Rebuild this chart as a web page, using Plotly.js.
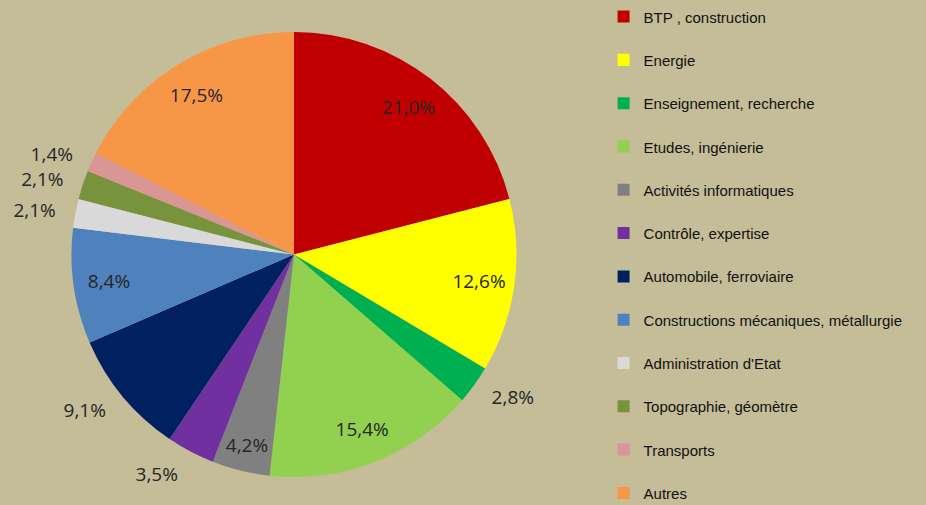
<!DOCTYPE html>
<html>
<head>
<meta charset="utf-8">
<script src="https://cdn.plot.ly/plotly-3.0.1.min.js"></script>
<style>html,body{margin:0;padding:0;background:#C4BD97;}#chart{width:926px;height:505px;}</style>
</head>
<body>
<div id="chart"></div>
<script>
const categories = [
  "BTP , construction",
  "Energie",
  "Enseignement, recherche",
  "Etudes, ingénierie",
  "Activités informatiques",
  "Contrôle, expertise",
  "Automobile, ferroviaire",
  "Constructions mécaniques, métallurgie",
  "Administration d'Etat",
  "Topographie, géomètre",
  "Transports",
  "Autres"
];
const shares = [21.0, 12.6, 2.8, 15.4, 4.2, 3.5, 9.1, 8.4, 2.1, 2.1, 1.4, 17.5];
const sliceColors = ["#C00000", "#FFFF00", "#00B050", "#92D050", "#808080", "#7030A0",
                     "#002060", "#4F81BD", "#D9D9D9", "#77933C", "#D99694", "#F79646"];
// where each percentage label goes: inside the slice, or outside (two layers so neighbours don't collide)
const labelPlacement = ["in", "in", "out", "in", "in", "out", "out", "in", "out", "out", "out2", "in"];

const pctText = shares.map(v => v.toFixed(1).replace(".", ",") + "%");
const legendLabels = categories.map(c => '<span style="font-size:15px">' + c + '</span><br>&nbsp;');
const clear = shares.map(() => "rgba(0,0,0,0)");

// pie geometry
const cx = 294, cy = 254.5, R = 222.5, W = 926, H = 505;
function dom(scale) {
  const r = R * scale;
  return {x: [(cx - r) / W, (cx + r) / W], y: [1 - (cy + r) / H, 1 - (cy - r) / H]};
}
const labelFont = {family: "Open Sans", size: 19, color: "#262626"};

const pieMain = {
  type: "pie", labels: legendLabels, values: shares,
  sort: false, direction: "clockwise", rotation: 0,
  marker: {colors: sliceColors, line: {width: 0}},
  textinfo: "none", domain: dom(1), hoverinfo: "skip"
};
const pieInside = {
  type: "pie", labels: legendLabels, values: shares,
  sort: false, direction: "clockwise", rotation: 0, hole: 0.68,
  marker: {colors: clear, line: {width: 0}},
  text: pctText, textinfo: "text",
  textposition: labelPlacement.map(p => p === "in" ? "inside" : "none"),
  insidetextorientation: "horizontal",
  textfont: labelFont, insidetextfont: labelFont,
  domain: dom(1), showlegend: false, hoverinfo: "skip"
};
function outsideLayer(tag, scale) {
  return {
    type: "pie", labels: legendLabels, values: shares,
    sort: false, direction: "clockwise", rotation: 0,
    marker: {colors: clear, line: {width: 0}},
    text: pctText, textinfo: "text",
    textposition: labelPlacement.map(p => p === tag ? "outside" : "none"),
    textfont: labelFont, outsidetextfont: labelFont,
    domain: dom(scale), showlegend: false, hoverinfo: "skip"
  };
}

const layout = {
  width: W, height: H,
  margin: {l: 0, r: 0, t: 0, b: 0},
  paper_bgcolor: "#C4BD97",
  plot_bgcolor: "#C4BD97",
  showlegend: true,
  uniformtext: {mode: "show", minsize: 19},
  legend: {
    x: 0.6518, y: 1, xanchor: "left", yanchor: "top",
    valign: "top",
    font: {family: "Liberation Sans, Arial, sans-serif", size: 15.5, color: "#111111"},
    bgcolor: "rgba(0,0,0,0)",
    itemclick: false
  }
};

Plotly.newPlot("chart", [pieMain, pieInside, outsideLayer("out", 1.06), outsideLayer("out2", 1.06)],
  layout, {displayModeBar: false, staticPlot: true});
</script>
</body>
</html>
